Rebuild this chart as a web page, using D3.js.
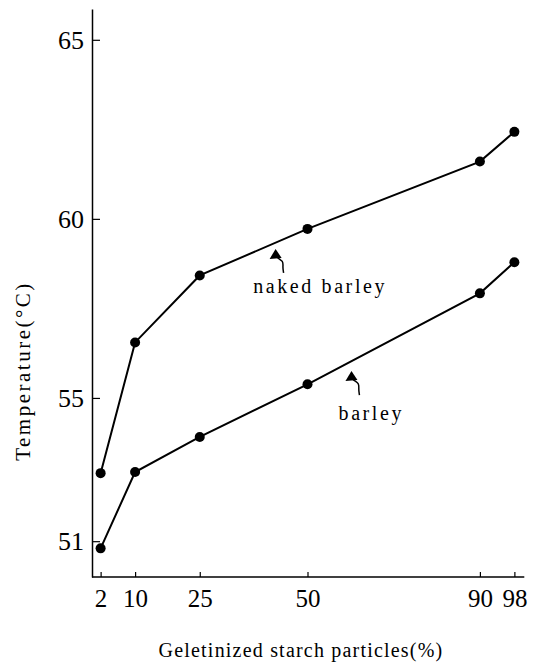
<!DOCTYPE html>
<html>
<head>
<meta charset="utf-8">
<script src="https://cdn.jsdelivr.net/npm/d3@7"></script>
<style>
  body { margin: 0; background: #fff; }
  text { font-family: "Liberation Serif", "DejaVu Serif", serif; fill: #000; }
</style>
</head>
<body>
<div id="chart"></div>
<script>
// values
const pctValues = [2, 10, 25, 50, 90, 98];
const nakedBarley = [52.9, 56.55, 58.42, 59.72, 61.6, 62.43];
const barley = [50.8, 52.93, 53.91, 55.38, 57.92, 58.79];
const yTickValues = [51, 55, 60, 65];
const xTickValues = [2, 10, 25, 50, 90, 98];

// label anchors in data units: [pct, temperature]
const labels = [
  {text: "naked barley", at: [37.4, 57.93], tip: [42.6, 59.16]},
  {text: "barley", at: [57.2, 54.38], tip: [60.2, 55.75]}
];

const W = 542, H = 666;

const svg = d3.select("#chart")
  .append("svg")
    .attr("width", W)
    .attr("height", H);

const x = d3.scaleLinear().domain([0, 100]).range([92, 523]);
const y = d3.scaleLinear().domain([50, 65.86]).range([577, 9]);

// axes
const yAxis = svg.append("g")
  .attr("transform", `translate(${x(0)},0)`)
  .call(d3.axisLeft(y).tickValues(yTickValues).tickSizeInner(-8).tickSizeOuter(0).tickPadding(8))
yAxis.selectAll("text").style("font-size", "26px")

const xAxis = svg.append("g")
  .attr("transform", `translate(0,${y(50)})`)
  .call(d3.axisBottom(x).tickValues(xTickValues).tickSizeInner(-5).tickSizeOuter(0).tickPadding(12))
xAxis.selectAll("text").style("font-size", "25px")
xAxis.select(".domain").attr("d", `M${x(0)},0H${x(100.3)}`)

svg.selectAll(".domain").attr("stroke", "#000").attr("stroke-width", 1.5)
svg.selectAll(".tick line").attr("stroke", "#000").attr("stroke-width", 1.2)
svg.selectAll(".tick text").attr("font-family", null)

// axis titles
svg.append("text")
  .attr("x", 301)
  .attr("y", 657)
  .attr("text-anchor", "middle")
  .style("font-size", "20px")
  .style("letter-spacing", "1.2px")
  .text("Geletinized starch particles(%)")

svg.append("text")
  .attr("transform", `translate(30,371) rotate(-90)`)
  .attr("text-anchor", "middle")
  .style("font-size", "21px")
  .style("letter-spacing", "2.5px")
  .text("Temperature(°C)")

// series
const line = d3.line()
  .x((d, i) => x(pctValues[i]))
  .y(d => y(d))

const series = [nakedBarley, barley]

svg.selectAll(".series")
  .data(series)
  .enter()
  .append("path")
    .attr("class", "series")
    .attr("fill", "none")
    .attr("stroke", "#000")
    .attr("stroke-width", 2)
    .attr("d", line)

series.forEach(vals => {
  svg.append("g")
    .selectAll("circle")
    .data(vals)
    .enter()
    .append("circle")
      .attr("cx", (d, i) => x(pctValues[i]))
      .attr("cy", d => y(d))
      .attr("r", 5)
      .attr("fill", "#000")
})

// labels with squiggly arrows
const squiggle = d3.line().curve(d3.curveBasis)
labels.forEach(l => {
  const tx = x(l.tip[0]), ty = y(l.tip[1])
  svg.append("path")
    .attr("d", squiggle([[tx, ty + 5], [tx + 1, ty + 9], [tx + 8, ty + 12], [tx + 7, ty + 18], [tx + 8, ty + 24]]))
    .attr("fill", "none")
    .attr("stroke", "#000")
    .attr("stroke-width", 1.5)
  svg.append("path")
    .attr("d", `M${tx},${ty}L${tx - 6},${ty + 10}L${tx + 6},${ty + 9}Z`)
    .attr("fill", "#000")
  svg.append("text")
    .attr("x", x(l.at[0]))
    .attr("y", y(l.at[1]))
    .style("font-size", "20px")
    .style("letter-spacing", "2.6px")
    .text(l.text)
})
</script>
</body>
</html>
